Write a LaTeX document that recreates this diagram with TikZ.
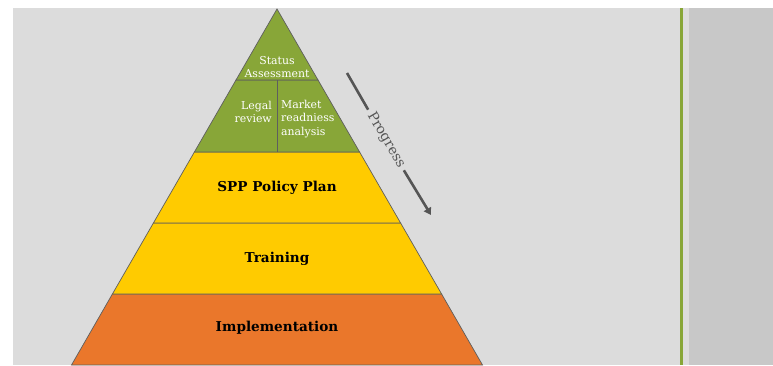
\documentclass[tikz,border=0pt]{standalone}
\usepackage{fontspec}
\setmainfont{DejaVu Serif}
\usetikzlibrary{arrows.meta}
\definecolor{panel}{HTML}{DCDCDC}
\definecolor{sidepanel}{HTML}{C8C8C8}
\definecolor{leaf}{HTML}{88A638}
\definecolor{sun}{HTML}{FFCB00}
\definecolor{ember}{HTML}{EA772B}
\definecolor{edge}{HTML}{5E5E5E}
\definecolor{arrowgray}{HTML}{555555}
\tikzset{
  layer/.style={draw=edge, line width=0.7pt, line join=miter},
  whitetxt/.style={text=white, font=\fontsize{10.9}{13.2}\selectfont, inner sep=0pt, align=center},
  blacktxt/.style={text=black, font=\bfseries\fontsize{13.6}{16}\selectfont, inner sep=0pt},
  progtxt/.style={text=arrowgray, font=\fontsize{13.8}{16}\selectfont, inner sep=4pt},
  progline/.style={draw=arrowgray, line width=2.6pt}
}
\begin{document}
\begin{tikzpicture}[x=1pt,y=-1pt]
\useasboundingbox (0,0) rectangle (773,365);
% page background and side panel
\fill[white] (0,0) rectangle (773,365);
\fill[panel] (13,8) rectangle (689,365);
\fill[sidepanel] (689,8) rectangle (773,365);
\fill[leaf] (680,8) rectangle (683,365);

% pyramid layers (apex at 277,9; sides at 60 degrees)
\begin{scope}
\clip (0,0) rectangle (773,365);
\filldraw[layer, fill=ember] (112.4,294) -- (441.6,294) -- (482.5,365) -- (71.5,365) -- cycle;
\filldraw[layer, fill=sun] (153.4,223) -- (400.6,223) -- (441.6,294) -- (112.4,294) -- cycle;
\filldraw[layer, fill=sun] (194.4,152) -- (359.6,152) -- (400.6,223) -- (153.4,223) -- cycle;
\filldraw[layer, fill=leaf] (236,80) -- (318,80) -- (359.6,152) -- (194.4,152) -- cycle;
\filldraw[layer, fill=leaf] (277,9) -- (318,80) -- (236,80) -- cycle;
\draw[layer] (277,80) -- (277,152);
\end{scope}

% labels
\node[whitetxt] (status) at (277,67) {Status\\Assessment};
\node[whitetxt, anchor=east, align=right] (legal) at (272,112) {Legal\\review};
\node[whitetxt, anchor=west, align=left] (market) at (281,119) {Market\\readniess\\analysis};
\node[blacktxt] (spp) at (277,188) {SPP Policy Plan};
\node[blacktxt] (training) at (277,259) {Training};
\node[blacktxt] (impl) at (277,328) {Implementation};

% progress arrow
\coordinate (pstart) at (347,73);
\coordinate (pend) at (431,215);
\node[progtxt, rotate=-59.5] (progress) at (386,140) {Progress};
\draw[progline] (pstart) -- (progress.west);
\draw[progline, -{Triangle[length=7pt,width=8pt]}] (progress.east) -- (pend);
\end{tikzpicture}
\end{document}
